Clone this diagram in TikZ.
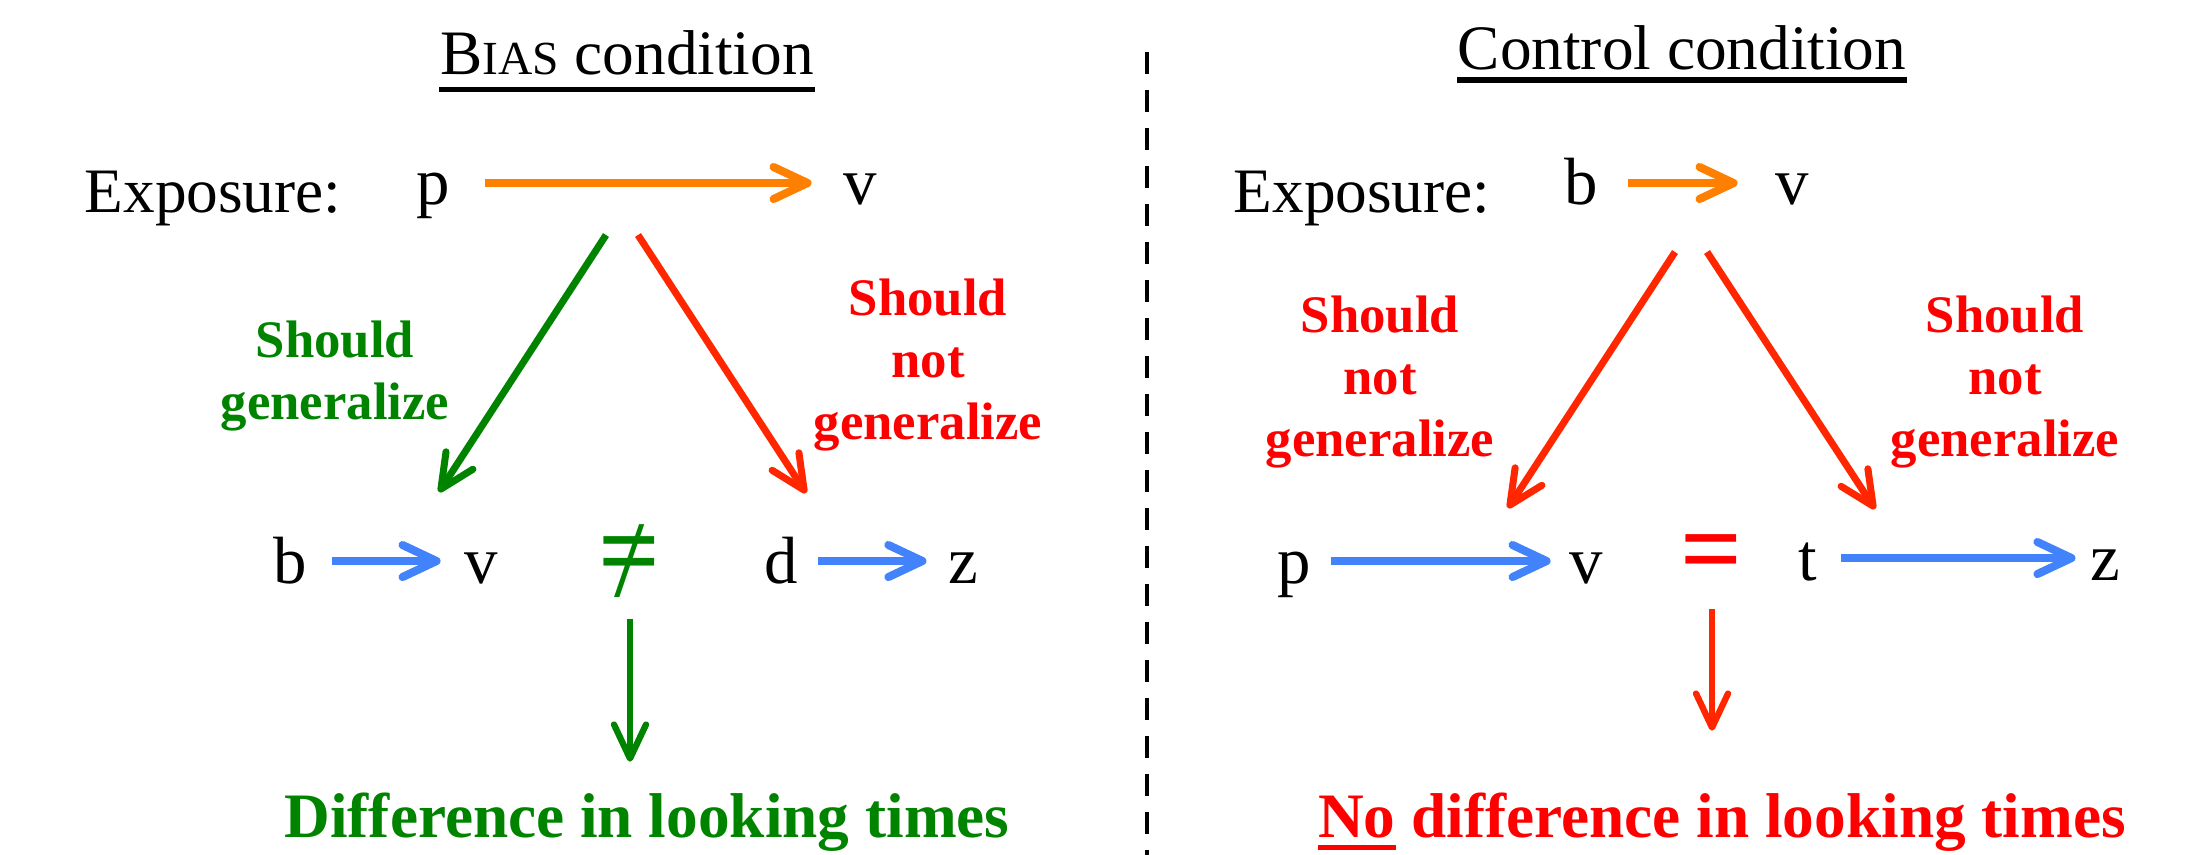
\documentclass[tikz,border=0pt]{standalone}
\usepackage{fontspec}
\setmainfont{Liberation Serif}
\usepackage{xcolor}
\usepackage{tikz}
\usetikzlibrary{arrows.meta,positioning,calc}

\definecolor{exporange}{HTML}{FF8000}
\definecolor{testblue}{HTML}{4282FA}
\definecolor{okgreen}{HTML}{008400}
\definecolor{nored}{HTML}{FF0000}
\definecolor{arrowred}{HTML}{FF2600}

\newsavebox{\ulbox}
\newcommand{\thickul}[1]{\sbox{\ulbox}{#1}\rlap{\rule[-3.6pt]{\wd\ulbox}{1.4pt}}\usebox{\ulbox}}
\newcommand{\boldneq}{\ooalign{\textbf{=}\cr\hidewidth\mdseries\raisebox{-0.09em}{/}\hidewidth\cr}}

\begin{document}
\begin{tikzpicture}[x=0.01cm, y=-0.01cm,
    title/.style={font=\fontsize{18}{20}\selectfont, inner sep=0pt, anchor=base},
    expo/.style={font=\fontsize{18}{20}\selectfont, inner sep=0pt, anchor=base west},
    letter/.style={font=\fontsize{19}{20}\selectfont, inner sep=0pt, anchor=base, text height=12.5pt, text depth=0pt},
    hint/.style={font=\bfseries\fontsize{15}{17.6}\selectfont, align=center, inner sep=0pt, anchor=north},
    result/.style={font=\bfseries\fontsize{18}{20}\selectfont, inner sep=0pt, anchor=base},
    relation/.style={font=\bfseries\fontsize{31}{31}\selectfont, inner sep=0pt},
    tip/.style={-{Straight Barb[length=3.4mm,width=3.2mm,round]}},
    exparrow/.style={tip, line width=2.3pt, exporange},
    testarrow/.style={tip, line width=2.3pt, testblue},
    diag/.style={tip, line width=2pt},
    down/.style={tip, line width=1.8pt},
    ulline/.style={line width=1.6pt},
    divider/.style={line width=1.2pt, dash pattern=on 6.3pt off 4.5pt}]
    \useasboundingbox (0,0) rectangle (2195,855);

    % Bias condition
    \node[title] (titleL) at (627,75) {B{\fontsize{13.5}{15}\selectfont IAS} condition};
    \draw[ulline] ([yshift=-4.1pt]titleL.base west) -- ([yshift=-4.1pt]titleL.base east);
    \node[expo] (expoL) at (84,213) {Exposure:};
    \node[letter] (pL) at (433,205) {p};
    \node[letter] (vL) at (860,205) {v};
    \draw[exparrow, shorten <=0.35cm, shorten >=0.31cm] (pL) -- (vL);

    \coordinate (forkL1) at (606,235);
    \coordinate (forkL2) at (638,235);
    \coordinate (endL1) at (439,492);
    \coordinate (endL2) at (806,493);
    \draw[diag, okgreen] (forkL1) -- (endL1);
    \draw[diag, arrowred] (forkL2) -- (endL2);
    \node[hint, okgreen] (hintL1) at (335,320) {Should\\generalize};
    \node[hint, nored] (hintL2) at (928,278) {Should\\not\\generalize};

    \node[letter] (bL) at (290,583) {b};
    \node[letter] (wL) at (481,583) {v};
    \draw[testarrow, shorten <=0.25cm, shorten >=0.23cm] (bL) -- (wL);
    \node[letter] (dL) at (781,583) {d};
    \node[letter] (zL) at (963,583) {z};
    \draw[testarrow, shorten <=0.2cm, shorten >=0.21cm] (dL) -- (zL);
    \node[relation, okgreen] (neqL) at (630,567) {\boldneq};

    \node[result, okgreen] (diffL) at (647,837) {Difference in looking times};
    \draw[down, okgreen, shorten <=0.2cm, shorten >=0.3cm] (neqL.south) -- (neqL.south |- diffL.north);

    % divider
    \coordinate (divtop) at (1147,52);
    \coordinate (divbot) at (1147,855);
    \draw[divider] (divtop) -- (divbot);

    % Control condition
    \node[title] (titleR) at (1682,70) {Control condition};
    \draw[ulline, line width=1.7pt] ([yshift=-2.85pt]titleR.base west) -- ([yshift=-2.85pt]titleR.base east);
    \node[expo] (expoR) at (1233,213) {Exposure:};
    \node[letter] (bR) at (1581,205) {b};
    \node[letter] (vR) at (1792,205) {v};
    \draw[exparrow, shorten <=0.3cm, shorten >=0.37cm] (bR) -- (vR);

    \coordinate (forkR1) at (1675,252);
    \coordinate (forkR2) at (1707,252);
    \coordinate (endR1) at (1508,508);
    \coordinate (endR2) at (1875,509);
    \draw[diag, arrowred] (forkR1) -- (endR1);
    \draw[diag, arrowred] (forkR2) -- (endR2);
    \node[hint, nored] (hintR1) at (1380,295) {Should\\not\\generalize};
    \node[hint, nored] (hintR2) at (2005,295) {Should\\not\\generalize};

    \node[letter] (pR) at (1294,583) {p};
    \node[letter] (wR) at (1586,583) {v};
    \draw[testarrow, shorten <=0.2cm, shorten >=0.18cm] (pR) -- (wR);
    \node[letter] (tR) at (1808,580) {t};
    \node[letter] (zR) at (2105,580) {z};
    \draw[testarrow, shorten <=0.23cm, shorten >=0.14cm] (tR) -- (zR);
    \node[relation, nored] (eqR) at (1712,560) {=};

    \node[result, nored] (diffR) at (1722,837) {\thickul{No} difference in looking times};
    \draw[down, arrowred, shorten <=0.23cm, shorten >=0.61cm] (eqR.south) -- (eqR.south |- diffR.north);
\end{tikzpicture}
\end{document}
